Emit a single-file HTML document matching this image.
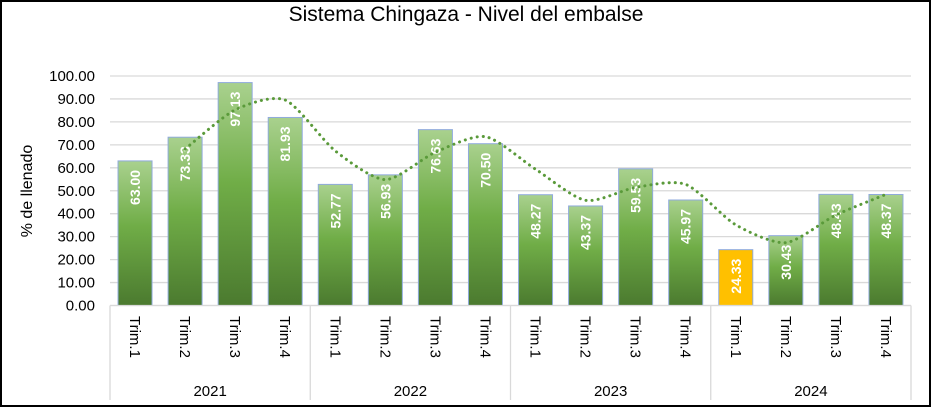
<!DOCTYPE html>
<html><head><meta charset="utf-8"><style>
body{margin:0;background:#fff;}
svg{display:block;font-family:"Liberation Sans",sans-serif;}
</style></head><body>
<svg id="chart" width="933" height="410" viewBox="0 0 933 410">
<defs>
<linearGradient id="g" x1="0" y1="0" x2="0" y2="1">
<stop offset="0" stop-color="#a9d18e"/><stop offset="0.45" stop-color="#70ad47"/><stop offset="1" stop-color="#4b7a2f"/>
</linearGradient>
</defs>
<rect x="1" y="1" width="929" height="405" fill="#fff" stroke="#000" stroke-width="2"/>
<text x="466" y="21" text-anchor="middle" font-size="21" fill="#000">Sistema Chingaza - Nivel del embalse</text>
<text transform="translate(32,191) rotate(-90)" text-anchor="middle" font-size="16" fill="#000">% de llenado</text>
<g id="grid"></g><g id="bars"></g><g id="trend"></g><g id="xaxis"></g>
</svg>
<script>
const years=["2021","2022","2023","2024"];
const quarters=["Trim.1","Trim.2","Trim.3","Trim.4"];
const values=[63.00,73.33,97.13,81.93,52.77,56.93,76.63,70.50,48.27,43.37,59.53,45.97,24.33,30.43,48.43,48.37];
const highlight=[12];
const yTicks=[0,10,20,30,40,50,60,70,80,90,100];
const NS="http://www.w3.org/2000/svg";
const X0=110,X1=911,Y0=305.5,Y100=76;
const n=values.length,cw=(X1-X0)/n,bw=34;
function y(v){return Y0-(v/100)*(Y0-Y100);}
function xc(i){return X0+cw*(i+0.5);}
function mk(tag,attrs,parent){const e=document.createElementNS(NS,tag);for(const k in attrs)e.setAttribute(k,attrs[k]);parent.appendChild(e);return e;}
const grid=document.getElementById('grid');
yTicks.forEach(t=>{
 const l=mk('line',{x1:X0,x2:X1,y1:y(t),y2:y(t),stroke:'#d9d9d9','stroke-width':1.3},grid);
 
 
 const tx=mk('text',{x:X0-15,y:y(t)+5,'text-anchor':'end','font-size':15,fill:'#000'},grid);
 tx.textContent=t.toFixed(2);
 
 
});
const bars=document.getElementById('bars');
values.forEach((v,i)=>{
 const hi=highlight.includes(i);
 const r=mk('rect',{x:xc(i)-bw/2,y:y(v),width:bw,height:Y0-y(v),fill:hi?'#ffc000':'url(#g)',stroke:'#8faadc','stroke-width':1},bars);
 
 
 const t=mk('text',{transform:`translate(${xc(i)+5},${y(v)+9}) rotate(-90)`,'text-anchor':'end','font-size':14,'font-weight':'bold',fill:'#fff'},bars);
 t.textContent=v.toFixed(2);
 
 
});
const pts=[];
for(let i=1;i<n;i++)pts.push([xc(i),y((values[i]+values[i-1])/2)]);
let d=`M${pts[0][0]},${pts[0][1]}`;
for(let i=0;i<pts.length-1;i++){
 const p0=pts[Math.max(0,i-1)],p1=pts[i],p2=pts[i+1],p3=pts[Math.min(pts.length-1,i+2)];
 const c1=[p1[0]+(p2[0]-p0[0])/8,p1[1]+(p2[1]-p0[1])/8],c2=[p2[0]-(p3[0]-p1[0])/8,p2[1]-(p3[1]-p1[1])/8];
 d+=` C${c1[0]},${c1[1]} ${c2[0]},${c2[1]} ${p2[0]},${p2[1]}`;
}
const tr=mk('path',{d:d,fill:'none',stroke:'#5a9a3a','stroke-width':3,'stroke-dasharray':'0.1 6','stroke-linecap':'round'},document.getElementById('trend'));


const xa=document.getElementById('xaxis');
const base=mk('line',{x1:X0,x2:X1,y1:Y0,y2:Y0,stroke:'#d9d9d9','stroke-width':1.3},xa);


for(let k=0;k<=years.length;k++){
 const xx=X0+k*4*cw;
 const s=mk('line',{x1:xx,x2:xx,y1:Y0,y2:400,stroke:'#d9d9d9','stroke-width':1.3},xa);
 
 
}
values.forEach((v,i)=>{
 const t=mk('text',{transform:`translate(${xc(i)-5},316) rotate(90)`,'font-size':15,fill:'#000'},xa);
 t.textContent=quarters[i%4];
 
 
});
years.forEach((yr,k)=>{
 const t=mk('text',{x:X0+(k*4+2)*cw,y:396,'text-anchor':'middle','font-size':15,fill:'#000'},xa);
 t.textContent=yr;
 
 
});
</script>
</body></html>
